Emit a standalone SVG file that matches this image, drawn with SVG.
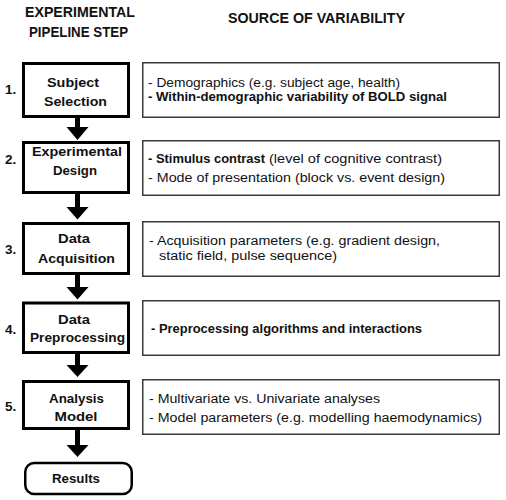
<svg xmlns="http://www.w3.org/2000/svg" width="506" height="500" viewBox="0 0 506 500">
<style>
  .hdr { font-family: "Liberation Sans", Arial, sans-serif; font-weight: bold; font-size: 15.5px; fill: #111; }
  .step { fill: #fff; stroke: #000; stroke-width: 3; }
  .src { fill: #fff; stroke: #3a3a3a; stroke-width: 1.5; }
  .lbl { font-family: "Liberation Sans", Arial, sans-serif; font-weight: bold; font-size: 13.5px; fill: #111; text-anchor: middle; }
  .num { font-family: "Liberation Sans", Arial, sans-serif; font-weight: bold; font-size: 13.5px; fill: #111; }
  .txt { font-family: "Liberation Sans Narrow", "Liberation Sans", Arial, sans-serif; font-size: 12.5px; fill: #111; }
  .b { font-weight: bold; }
  .arrow { fill: #000; stroke: none; }
</style>
<rect width="506" height="500" fill="#fff"/>

<g id="headers">
  <text class="hdr" x="25" y="16.7" textLength="110" lengthAdjust="spacingAndGlyphs">EXPERIMENTAL</text>
  <text class="hdr" x="29" y="37.3" textLength="99" lengthAdjust="spacingAndGlyphs">PIPELINE STEP</text>
  <text class="hdr" x="228" y="22.7" textLength="177" lengthAdjust="spacingAndGlyphs">SOURCE OF VARIABILITY</text>
</g>

<g id="connectors">
  <path class="arrow" d="M75,117 H80 V127 H88.5 L77.5,140 L66.5,127 H75 Z"/>
  <path class="arrow" d="M75,193 H80 V207 H88.5 L77.5,219.5 L66.5,207 H75 Z"/>
  <path class="arrow" d="M75,274 H80 V287 H88.5 L77.5,299.5 L66.5,287 H75 Z"/>
  <path class="arrow" d="M75,353 H80 V365 H88.5 L77.5,377 L66.5,365 H75 Z"/>
  <path class="arrow" d="M75,429 H80 V445 H88.5 L77.5,457 L66.5,445 H75 Z"/>
</g>

<g id="step1">
  <text class="num" x="5" y="94">1.</text>
  <rect class="step" x="23.5" y="63.5" width="105" height="53"/>
  <text class="lbl" x="73" y="87" textLength="52" lengthAdjust="spacingAndGlyphs">Subject</text>
  <text class="lbl" x="75.5" y="106" textLength="63" lengthAdjust="spacingAndGlyphs">Selection</text>
</g>
<g id="source1">
  <rect class="src" x="142.75" y="62.75" width="356.5" height="54.5"/>
  <text class="txt" x="148" y="87.3" textLength="252" lengthAdjust="spacingAndGlyphs">- Demographics (e.g. subject age, health)</text>
  <text class="txt b" x="148" y="100.5" textLength="299" lengthAdjust="spacingAndGlyphs">- Within-demographic variability of BOLD signal</text>
</g>

<g id="step2">
  <text class="num" x="5" y="164">2.</text>
  <rect class="step" x="23.5" y="142.5" width="105" height="50"/>
  <text class="lbl" x="77" y="155.5" textLength="90" lengthAdjust="spacingAndGlyphs">Experimental</text>
  <text class="lbl" x="75" y="174.5" textLength="44" lengthAdjust="spacingAndGlyphs">Design</text>
</g>
<g id="source2">
  <rect class="src" x="142.75" y="140.75" width="356.5" height="54.5"/>
  <text class="txt b" x="148" y="163.3" textLength="117" lengthAdjust="spacingAndGlyphs">- Stimulus contrast</text>
  <text class="txt" x="269" y="163.3" textLength="173" lengthAdjust="spacingAndGlyphs">(level of cognitive contrast)</text>
  <text class="txt" x="148" y="181.5" textLength="297" lengthAdjust="spacingAndGlyphs">- Mode of presentation (block vs. event design)</text>
</g>

<g id="step3">
  <text class="num" x="5" y="254">3.</text>
  <rect class="step" x="23.5" y="223.5" width="105" height="50"/>
  <text class="lbl" x="74" y="243" textLength="32" lengthAdjust="spacingAndGlyphs">Data</text>
  <text class="lbl" x="76.5" y="262.5" textLength="77" lengthAdjust="spacingAndGlyphs">Acquisition</text>
</g>
<g id="source3">
  <rect class="src" x="142.75" y="221.75" width="356.5" height="54.5"/>
  <text class="txt" x="149" y="245" textLength="291" lengthAdjust="spacingAndGlyphs">- Acquisition parameters (e.g. gradient design,</text>
  <text class="txt" x="159" y="260" textLength="178" lengthAdjust="spacingAndGlyphs">static field, pulse sequence)</text>
</g>

<g id="step4">
  <text class="num" x="5" y="334">4.</text>
  <rect class="step" x="23.5" y="303" width="105" height="49.5"/>
  <text class="lbl" x="74" y="323.5" textLength="32" lengthAdjust="spacingAndGlyphs">Data</text>
  <text class="lbl" x="77.5" y="341.5" textLength="95" lengthAdjust="spacingAndGlyphs">Preprocessing</text>
</g>
<g id="source4">
  <rect class="src" x="142.75" y="300.75" width="356.5" height="54.5"/>
  <text class="txt b" x="151" y="333" textLength="271" lengthAdjust="spacingAndGlyphs">- Preprocessing algorithms and interactions</text>
</g>

<g id="step5">
  <text class="num" x="5" y="411">5.</text>
  <rect class="step" x="23.5" y="381.5" width="105" height="47"/>
  <text class="lbl" x="76.5" y="402.5" textLength="55" lengthAdjust="spacingAndGlyphs">Analysis</text>
  <text class="lbl" x="76" y="421" textLength="43" lengthAdjust="spacingAndGlyphs">Model</text>
</g>
<g id="source5">
  <rect class="src" x="142.75" y="379.75" width="356.5" height="54.5"/>
  <text class="txt" x="149" y="403" textLength="231" lengthAdjust="spacingAndGlyphs">- Multivariate vs. Univariate analyses</text>
  <text class="txt" x="149" y="421.7" textLength="333" lengthAdjust="spacingAndGlyphs">- Model parameters (e.g. modelling haemodynamics)</text>
</g>

<g id="results">
  <rect class="step" x="25.25" y="463" width="106.5" height="31" rx="9" ry="9" style="stroke-width:2.5"/>
  <text class="lbl" x="76" y="482.5" textLength="48" lengthAdjust="spacingAndGlyphs">Results</text>
</g>
</svg>
